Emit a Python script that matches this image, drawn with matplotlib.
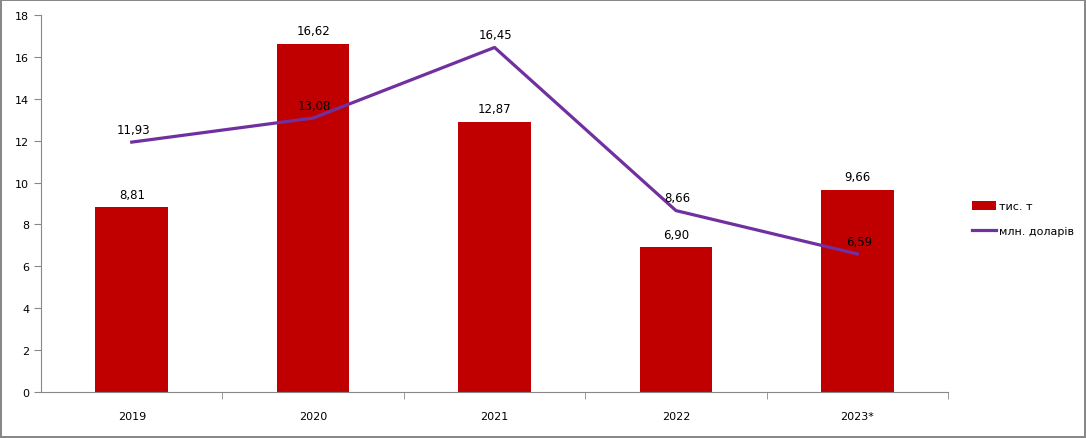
import matplotlib
matplotlib.use("Agg")
import matplotlib.pyplot as plt
import numpy as np

years = ['2019', '2020', '2021', '2022', '2023*']
tonnes = [8.81, 16.62, 12.87, 6.90, 9.66]
dollars = [11.93, 13.08, 16.45, 8.66, 6.59]

plt.rcParams['font.family'] = ['DejaVu Sans']

fig = plt.figure(figsize=(10.86, 4.39), dpi=100)
fig.patch.set_edgecolor('#888888')
fig.patch.set_linewidth(1.5)
ax = fig.add_axes([0.0378, 0.1048, 0.8352, 0.8588])

x = np.arange(len(years))
bars = ax.bar(x, tonnes, width=0.4, color='#C00000', label='тис. т', zorder=2)
line, = ax.plot(x, dollars, color='#7030A0', linewidth=2.3, label='млн. доларів', zorder=3)

# value labels
for xi, v in zip(x, tonnes):
    ax.annotate(f'{v:.2f}'.replace('.', ','), (xi, v), xytext=(0, 5),
                textcoords='offset points', ha='center', va='bottom', fontsize=8.5)
for xi, v in zip(x, dollars):
    ax.annotate(f'{v:.2f}'.replace('.', ','), (xi, v), xytext=(1, 4.5),
                textcoords='offset points', ha='center', va='bottom', fontsize=8.5, zorder=4)

ax.set_xlim(-0.5, len(years) - 0.5)
ax.set_ylim(0, 18)
ax.set_yticks(range(0, 19, 2))
ax.set_xticks(x)
ax.set_xticklabels(years, fontsize=8)
ax.set_xticks(np.arange(0.5, len(years), 1), minor=True)
ax.tick_params(axis='x', which='major', length=0, pad=14)
ax.tick_params(axis='x', which='minor', length=5, color='#888888', direction='out')
ax.tick_params(axis='y', labelsize=8, length=5, color='#888888', direction='out')

for s in ['top', 'right']:
    ax.spines[s].set_visible(False)
for s in ['left', 'bottom']:
    ax.spines[s].set_color('#888888')

ax.legend(handles=[bars, line], loc='center left', bbox_to_anchor=(1.015, 0.46),
          frameon=False, fontsize=8, handlelength=2.2, handleheight=0.8,
          labelspacing=1.3, handletextpad=0.3)

fig.savefig('out.png', dpi=100, edgecolor=fig.get_edgecolor())
